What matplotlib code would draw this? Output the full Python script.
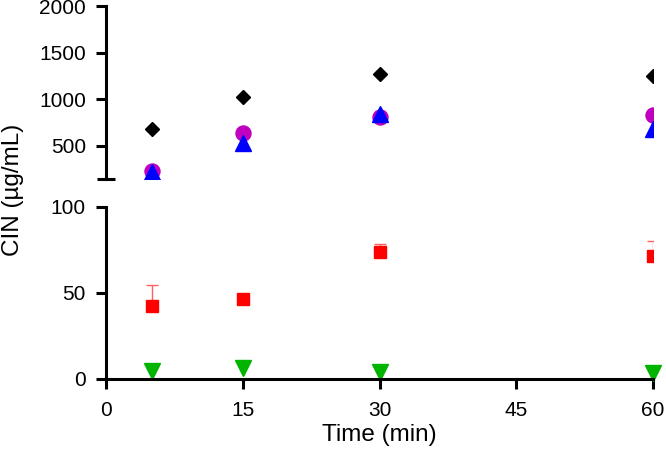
import numpy as np
import matplotlib
matplotlib.use("Agg")
import matplotlib.pyplot as plt

plt.rcParams["font.family"] = ["Liberation Sans", "DejaVu Sans"]

# ---------------------------------------------------------------------------
# Data
# ---------------------------------------------------------------------------
time_min = [5, 15, 30, 60]

# upper panel (high concentrations)
diamond_vals = [685, 1020, 1265, 1245]
circle_vals = [225, 640, 805, 830]
triangle_vals = [215, 525, 840, 680]

# lower panel (low concentrations)
square_vals = [42.5, 46.5, 74.0, 71.5]
square_err = [12.0, 2.0, 4.5, 8.5]
vtri_vals = [4.7, 6.4, 4.0, 3.5]

x_ticks = [0, 15, 30, 45, 60]
top_ticks = [500, 1000, 1500, 2000]
bot_ticks = [0, 50, 100]

LW = 2.2
FS_TICK = 15
FS_LABEL = 17.5

fig = plt.figure(figsize=(6.66, 4.55), dpi=100)
left, width = 106 / 666, (653 - 106) / 666
ax_top = fig.add_axes([left, 1 - 179 / 455, width, (179 - 6) / 455])
ax_bot = fig.add_axes([left, 1 - 379 / 455, width, (379 - 207) / 455])

for ax in (ax_top, ax_bot):
    ax.set_xlim(0, 60)
    for s in ("top", "right"):
        ax.spines[s].set_visible(False)
    for s in ("left", "bottom"):
        ax.spines[s].set_linewidth(LW)
    ax.tick_params(axis="both", width=LW, length=7, labelsize=FS_TICK,
                   direction="out", colors="black")
    ax.tick_params(axis="y", pad=7.5)
    ax.patch.set_alpha(0)

# --- top panel -------------------------------------------------------------
ax_top.set_ylim(143, 2000)
ax_top.spines["bottom"].set_visible(False)
ax_top.set_xticks([])
ax_top.set_yticks(top_ticks)
# break mark at the lower end of the upper axis
ax_top.set_yticks([143], minor=True)
ax_top.tick_params(axis="y", which="minor", direction="inout", length=13, width=LW)

ax_top.plot(time_min, diamond_vals, ls="none", marker="D", ms=7.6, color="black")
ax_top.plot(time_min, circle_vals, ls="none", marker="o", ms=10.8, color="#BF00BF")
ax_top.plot(time_min, triangle_vals, ls="none", marker="^", ms=11.5, color="#0000FF")

# --- bottom panel ----------------------------------------------------------
ax_bot.set_ylim(0, 100)
ax_bot.set_xticks(x_ticks)
ax_bot.set_yticks(bot_ticks)
ax_bot.set_yticks([100], minor=True)
ax_bot.tick_params(axis="y", which="minor", direction="inout", length=13, width=LW)
ax_bot.tick_params(axis="x", pad=8.5)

ax_bot.errorbar(time_min, square_vals,
                yerr=[np.zeros(len(square_err)), square_err],
                ls="none", marker="s", ms=8.6, color="#FF0000",
                ecolor="#FF6060", elinewidth=1.0, capsize=4, capthick=1.0)
ax_bot.plot(time_min, vtri_vals, ls="none", marker="v", ms=11.5,
            color="#00B400", clip_on=False)

ax_bot.set_xlabel("Time (min)", fontsize=FS_LABEL, labelpad=3)
fig.text(13 / 666, 1 - 190 / 455, "CIN (\u00b5g/mL)", rotation=90,
         ha="center", va="center", fontsize=FS_LABEL)

fig.savefig("out.png", dpi=100)
